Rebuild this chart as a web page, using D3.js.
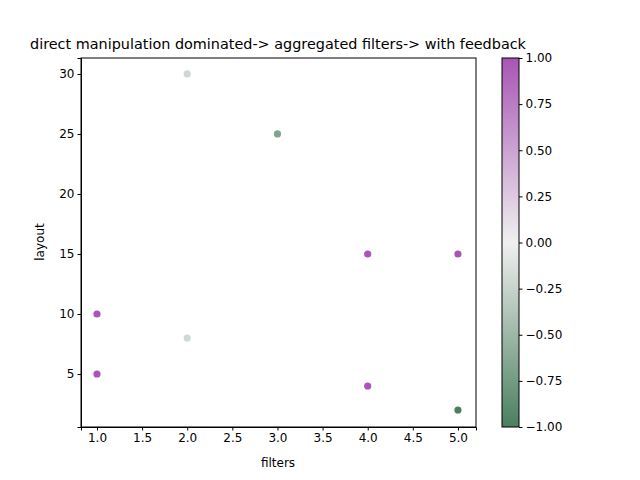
<!DOCTYPE html><html><head><meta charset="utf-8"><script src="https://cdn.jsdelivr.net/npm/d3@7"></script>
<style>body{margin:0}text{font-family:"DejaVu Sans";}</style></head><body><svg width="640" height="480"></svg>
<script>
const filters=[1,1,2,2,3,4,4,5,5];
const layout=[10,5,30,8,25,15,4,15,2];
const feedback=[1,1,-0.2,-0.2,-0.67,1,1,1,-1];
const xTicks=[1,1.5,2,2.5,3,3.5,4,4.5,5];
const yTicks=[5,10,15,20,25,30];
const cTicks=[-1,-0.75,-0.5,-0.25,0,0.25,0.5,0.75,1];
const svg=d3.select("svg");
const L=81,R=476,T=58,B=427;
const x=d3.scaleLinear().domain([0.823,5.2]).range([L,R]);
const y=d3.scaleLinear().domain([0.583,31.33]).range([B,T]);
const col=d3.scaleLinear().domain([-1,0,1]).range(["#4a7f5e","#f0f0f0","#a855b5"]);
svg.append("rect").attr("width",640).attr("height",480).attr("fill","#fff");
svg.append("g").attr("transform",`translate(0,${B})`).call(d3.axisBottom(x).tickValues(xTicks).tickFormat(d3.format(".1f")).tickSizeOuter(0).tickSize(3.5)).attr("font-size",12);
svg.append("g").attr("transform",`translate(${L},0)`).call(d3.axisLeft(y).tickValues(yTicks).tickSizeOuter(0).tickSize(3.5)).attr("font-size",12);
svg.append("rect").attr("x",L).attr("y",T).attr("width",R-L).attr("height",B-T).attr("fill","none").attr("stroke","#000");
svg.selectAll("circle").data(filters).join("circle").attr("cx",d=>x(d)).attr("cy",(d,i)=>y(layout[i])).attr("r",3.6).attr("fill",(d,i)=>col(feedback[i]));
svg.selectAll(".tick text").attr("fill","#000");
svg.append("text").attr("x",278).attr("y",467).attr("text-anchor","middle").attr("font-size",12).text("filters");
svg.append("text").attr("transform","translate(44,242) rotate(-90)").attr("text-anchor","middle").attr("font-size",12).text("layout");
svg.append("text").attr("x",278).attr("y",49).attr("text-anchor","middle").attr("font-size",14.4).text("direct manipulation dominated-> aggregated filters-> with feedback");
const cy=d3.scaleLinear().domain([-1,1]).range([B,T]);
const defs=svg.append("defs");const g=defs.append("linearGradient").attr("id","cg").attr("x1",0).attr("y1",1).attr("x2",0).attr("y2",0);
[-1,0,1].forEach((v)=>g.append("stop").attr("offset",(v+1)/2).attr("stop-color",col(v)));
svg.append("rect").attr("x",502).attr("y",T).attr("width",17).attr("height",B-T).attr("fill","url(#cg)").attr("stroke","#000");
svg.append("g").attr("transform","translate(519,0)").call(d3.axisRight(cy).tickValues(cTicks).tickSize(3.5).tickFormat(d=>d3.format(".2f")(d).replace("-","\u2212")).tickSizeOuter(0)).attr("font-size",12).call(g=>g.select(".domain").remove()).selectAll("text").attr("fill","#000");
</script></body></html>
